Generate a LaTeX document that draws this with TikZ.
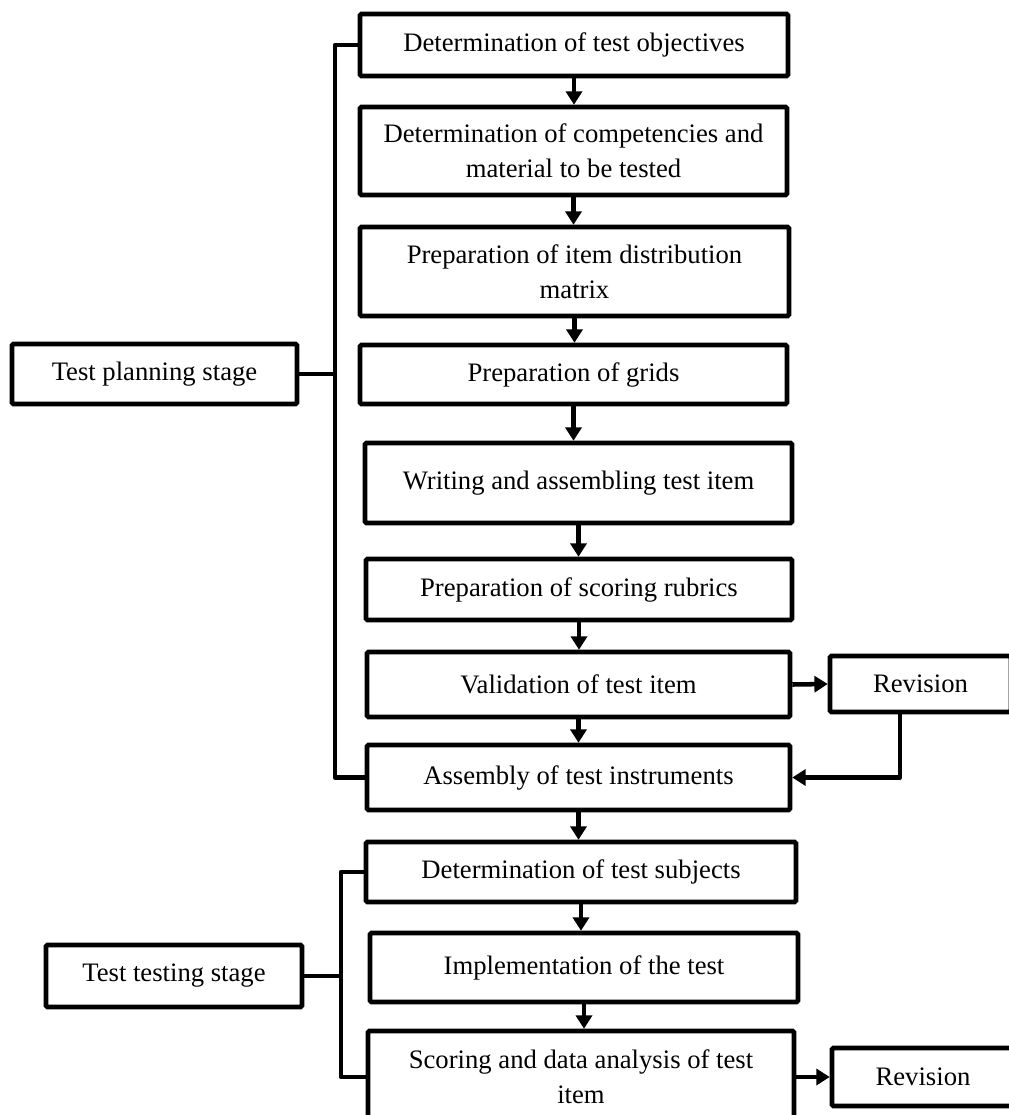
\documentclass[tikz,border=0pt]{standalone}
\usepackage{fontspec}
\setmainfont{Liberation Serif}
\usetikzlibrary{arrows.meta}
\begin{document}
\begin{tikzpicture}[x=0.75pt,y=-0.75pt,
  font=\fontsize{20}{26}\selectfont,
  box/.style={draw=black,line width=3.4pt,fill=white,rounded corners=1pt,align=center,inner sep=0pt},
  conn/.style={line width=3.4pt,line join=round,line cap=butt},
  arr/.style={conn,-{Triangle[length=10pt,width=12pt]}}]
\useasboundingbox (0,0) rectangle (1008,1115);
% planning column
\node[box,minimum width=428*0.75pt,minimum height=62*0.75pt] (b1) at (574,45) {Determination of test objectives};
\node[box,minimum width=427*0.75pt,minimum height=88*0.75pt] (b2) at (573.5,151) {Determination of competencies and\\material to be tested};
\node[box,minimum width=429*0.75pt,minimum height=89*0.75pt] (b3) at (574.5,271.5) {Preparation of item distribution\\matrix};
\node[box,minimum width=427*0.75pt,minimum height=59*0.75pt] (b4) at (573.5,374.5) {Preparation of grids};
\node[box,minimum width=427*0.75pt,minimum height=80*0.75pt] (b5) at (578.5,483) {Writing and assembling test item};
\node[box,minimum width=426*0.75pt,minimum height=61*0.75pt] (b6) at (579,589.5) {Preparation of scoring rubrics};
\node[box,minimum width=423*0.75pt,minimum height=65*0.75pt] (b7) at (578.5,684.5) {Validation of test item};
\node[box,minimum width=423*0.75pt,minimum height=65*0.75pt] (asm) at (578.5,777.5) {Assembly of test instruments};
% testing column
\node[box,minimum width=430*0.75pt,minimum height=60*0.75pt] (subj) at (581,872) {Determination of test subjects};
\node[box,minimum width=428*0.75pt,minimum height=69*0.75pt] (impl) at (584,967.5) {Implementation of the test};
\node[box,minimum width=426*0.75pt,minimum height=92*0.75pt] (scor) at (581,1077) {Scoring and data analysis of test\\item};
% revisions
\node[box,minimum width=181*0.75pt,minimum height=56*0.75pt] (rev1) at (920.5,684) {Revision};
\node[box,minimum width=182*0.75pt,minimum height=58*0.75pt] (rev2) at (923,1077) {Revision};
% stages
\node[box,minimum width=285*0.75pt,minimum height=60*0.75pt] (plan) at (154.5,374) {Test planning stage};
\node[box,minimum width=256*0.75pt,minimum height=62*0.75pt] (test) at (174,976) {Test testing stage};
% vertical arrows
\draw[arr] (b1.south) -- (b1.south |- b2.north);
\draw[arr] (b2.south) -- (b2.south |- b3.north);
\draw[arr] (b3.south) -- (b3.south |- b4.north);
\draw[arr] (b4.south) -- (b4.south |- b5.north);
\draw[arr] (b5.south) -- (b5.south |- b6.north);
\draw[arr] (b6.south) -- (b6.south |- b7.north);
\draw[arr] (b7.south) -- (b7.south |- asm.north);
\draw[arr] (asm.south) -- (asm.south |- subj.north);
\draw[arr] (subj.south) -- (subj.south |- impl.north);
\draw[arr] (impl.south) -- (impl.south |- scor.north);
% revision arrows
\draw[arr] (b7.east) -- (rev1.west);
\coordinate (ret) at (900,778);
\draw[arr] (rev1.south -| ret) |- (asm.east);
\draw[arr] (scor.east) -- (rev2.west);
% brackets
\coordinate (pb) at (335,0);
\draw[conn] (b1.west) -- (b1.west -| pb) -- (asm.west -| pb) -- (asm.west);
\draw[conn] (plan.east) -- (plan.east -| pb);
\coordinate (tb) at (341,0);
\draw[conn] (subj.west) -- (subj.west -| tb) -- (scor.west -| tb) -- (scor.west);
\draw[conn] (test.east) -- (test.east -| tb);
\end{tikzpicture}
\end{document}
